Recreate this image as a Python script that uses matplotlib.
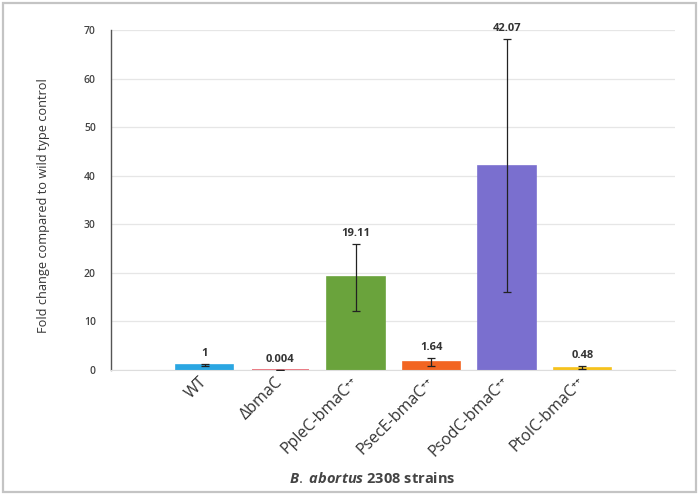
import matplotlib
matplotlib.use("Agg")
import matplotlib.pyplot as plt
from matplotlib.patches import Rectangle

plt.rcParams['font.family'] = ['Open Sans', 'DejaVu Sans']
plt.rcParams['mathtext.fontset'] = 'custom'
plt.rcParams['mathtext.rm'] = 'Open Sans'
plt.rcParams['mathtext.it'] = 'Open Sans:italic:bold'

# data
strains = ["WT", "\u0394bmaC", "PpleC-bmaC\u207a\u207a", "PsecE-bmaC\u207a\u207a",
           "PsodC-bmaC\u207a\u207a", "PtolC-bmaC\u207a\u207a"]
fold = [1, 0.004, 19.11, 1.64, 42.07, 0.48]
labels = ["1", "0.004", "19.11", "1.64", "42.07", "0.48"]
err = [0.25, 0.0, 6.9, 0.8, 26.0, 0.3]
colors = ["#2aa6e2", "#e8606c", "#6aa33c", "#f26522", "#7a6fcf", "#f6c21c"]

fig = plt.figure(figsize=(6.99, 4.95), dpi=100)
ax = fig.add_axes([0.159, 0.2525, 0.807, 0.687])

x = range(len(fold))
ax.bar(x, fold, width=0.76, color=colors, edgecolor=colors, linewidth=1.2, zorder=2)
ax.errorbar(x, fold, yerr=err, fmt='none', ecolor='#222222',
            elinewidth=0.9, capsize=3, capthick=0.9, zorder=3)

for i in x:
    top = fold[i] + err[i]
    ax.text(i, top + 1.0, labels[i], ha='center', va='bottom',
            fontsize=8, fontweight='bold', color='#333333')

ax.set_xlim(-1.24, 6.23)
ax.set_ylim(0, 70)
ax.set_yticks(range(0, 71, 10))
ax.tick_params(axis='y', length=0, pad=11, labelsize=7.5, labelcolor='#444444')
ax.tick_params(axis='x', length=0, pad=7)
ax.set_xticks(list(x))
ax.set_xticklabels(strains, rotation=45, ha='right', va='center',
                   rotation_mode='anchor', fontsize=11.5, color='#333333')
for t in ax.get_yticklabels():
    t.set_fontweight('semibold')

ax.yaxis.grid(True, color='#e6e6e6', linewidth=0.9, zorder=0)
ax.set_axisbelow(True)
for s in ['top', 'right']:
    ax.spines[s].set_visible(False)
ax.spines['bottom'].set_color('#dddddd')
ax.spines['left'].set_color('#555555')
ax.spines['left'].set_linewidth(1.0)

fig.text(0.062, 0.585, "Fold change compared to wild type control", rotation=90,
         ha='center', va='center', fontsize=9.2, color='#333333')
fig.text(0.532, 0.034, r"$\it{B.\ abortus}$ 2308 strains", ha='center', va='center',
         fontsize=10.5, color='#444444', fontweight='bold')

fig.patches.append(Rectangle((0.004, 0.006), 0.992, 0.988, transform=fig.transFigure,
                             fill=False, edgecolor='#c4c4c4', linewidth=1.6))

plt.savefig("out.png", dpi=100)
